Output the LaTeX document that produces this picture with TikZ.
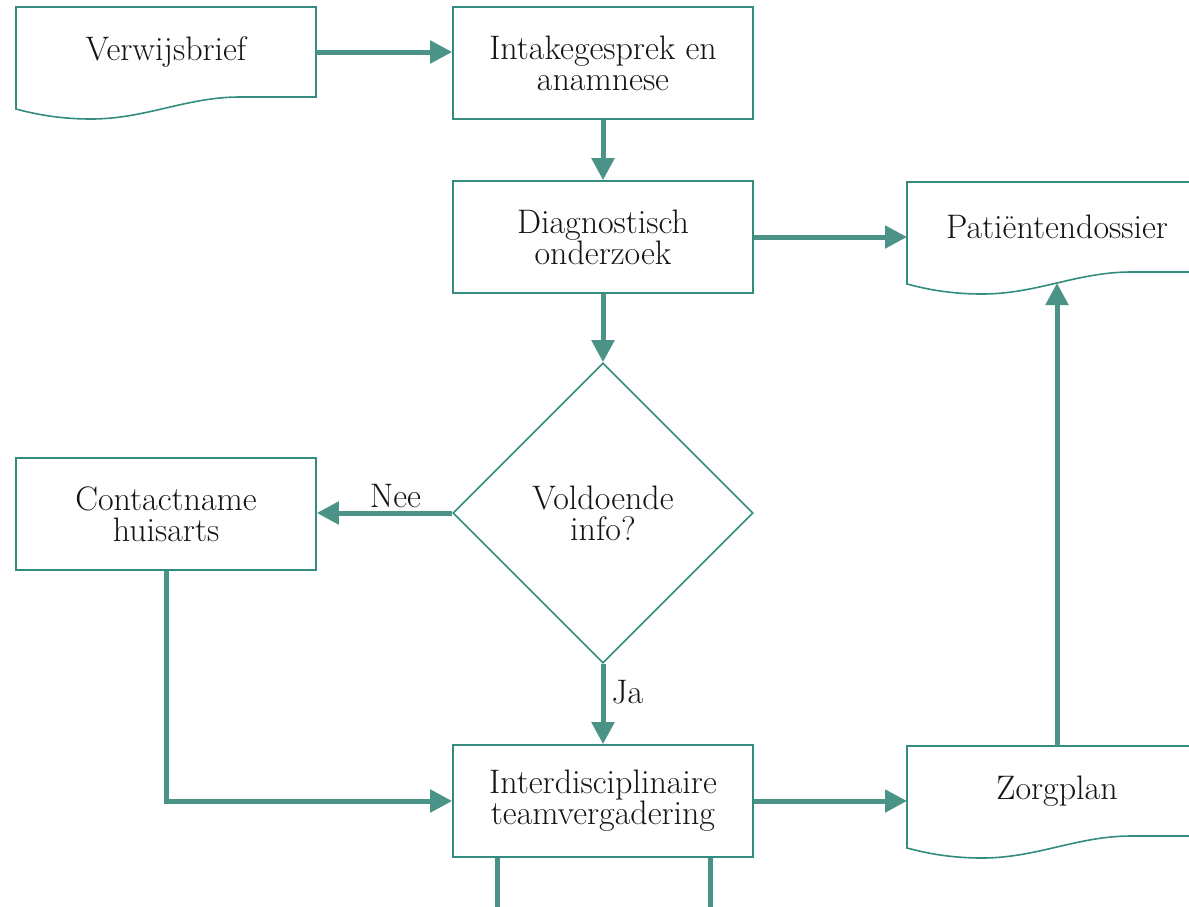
\documentclass[tikz,border=0pt]{standalone}
\usetikzlibrary{arrows.meta,shapes.geometric,calc}
\definecolor{tealc}{RGB}{74,147,134}
\definecolor{tealb}{RGB}{52,140,126}
\definecolor{txt}{RGB}{20,20,20}
\newcommand\docwave[1]{%
  \draw[boxline] (#1.north west) -- (#1.north east) -- (#1.south east)
    -- ($(#1.south west)+(224,0)$)
    .. controls ($(#1.south west)+(170,0)$) and ($(#1.south west)+(130,22)$) .. ($(#1.south west)+(75,22)$)
    .. controls ($(#1.south west)+(40,22)$) and ($(#1.south west)+(15,16)$) .. ($(#1.south west)+(0,12)$)
    -- cycle;}
\begin{document}
\begin{tikzpicture}[x=1pt,y=-1pt,
  font=\fontsize{34}{31}\selectfont, text=txt,
  boxline/.style={draw=tealb,line width=1.6pt},
  procbox/.style={boxline,minimum width=300pt,minimum height=112pt,align=center,inner sep=0pt},
  docbox/.style={minimum width=300pt,minimum height=90pt,align=center,inner sep=0pt,outer sep=0pt},
  decbox/.style={boxline,diamond,aspect=1,minimum width=300pt,minimum height=300pt,inner sep=0pt,align=center},
  flow/.style={draw=tealc,line width=5pt,-{Triangle[length=22pt,width=22pt]}},
  plainflow/.style={draw=tealc,line width=5pt},
  lbl/.style={font=\fontsize{34}{31}\selectfont}]
\clip (0,0) rectangle (1189,906);

\node[docbox] (v) at (166,52) {Verwijsbrief};
\docwave{v}
\node[procbox] (intake) at (603,63) {Intakegesprek en\\anamnese};
\node[procbox] (diag) at (603,237) {Diagnostisch\\onderzoek};
\node[docbox] (pat) at (1057,227) {Patiëntendossier};
\docwave{pat}
\node[decbox] (dec) at (603,513) {Voldoende\\info?};
\node[procbox] (contact) at (166,514) {Contactname\\huisarts};
\node[procbox] (inter) at (603,801) {Interdisciplinaire\\teamvergadering};
\node[docbox] (zorg) at (1057,791) {Zorgplan};
\docwave{zorg}

\coordinate (patb) at ($(pat.south)+(0,11)$);
\coordinate (outa) at (497,920);
\coordinate (outb) at (710,920);

\draw[flow] (v.east) -- (v.east -| intake.west);
\draw[flow] (intake.south) -- (diag.north);
\draw[flow] (diag.east) -- (diag.east -| pat.west);
\draw[flow] (diag.south) -- (dec.north);
\draw[flow] (dec.west) -- node[lbl,above,pos=0.42,inner sep=3pt] (nee) {Nee} (dec.west -| contact.east);
\draw[flow] (dec.south) -- node[lbl,right,pos=0.35,inner sep=6pt] (ja) {Ja} (inter.north);
\draw[flow] (contact.south) |- (inter.west);
\draw[flow] (inter.east) -- (inter.east -| zorg.west);
\draw[flow] (zorg.north) -- (patb);
\draw[plainflow] (inter.south -| outa) -- (outa);
\draw[plainflow] (inter.south -| outb) -- (outb);
\end{tikzpicture}
\end{document}
